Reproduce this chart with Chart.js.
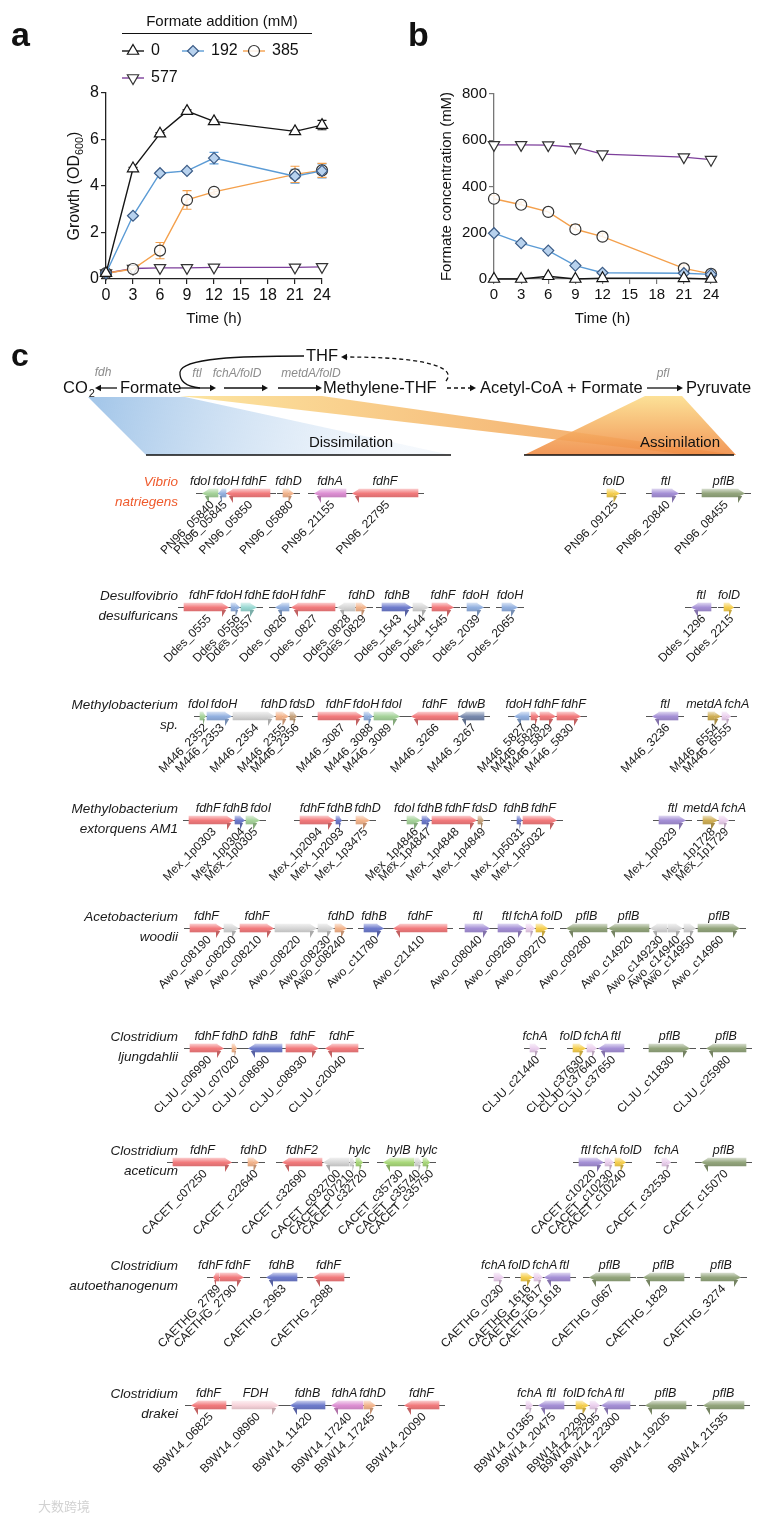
<!DOCTYPE html>
<html lang="en">
<head>
<meta charset="UTF-8" />
<title>Formate growth and formate gene clusters</title>
<script src="https://cdn.jsdelivr.net/npm/chart.js"></script>
<style>
  body { margin: 0; background: #fff; font-family: Arial, "Liberation Sans", sans-serif; }
  #page { position: relative; width: 765px; height: 1521px; overflow: hidden; }
  .box { position: absolute; }
</style>
</head>
<body>
<div id="page">
  <div class="box" style="left:0;top:0;width:400px;height:330px"><canvas id="growthChart"></canvas></div>
  <div class="box" style="left:400px;top:0;width:365px;height:330px"><canvas id="formateChart"></canvas></div>
  <div class="box" style="left:0;top:330px;width:765px;height:1191px"><canvas id="geneChart"></canvas></div>
</div>

<script>
  // ---------- panel a / b values ----------
  const timePoints = [0, 3, 6, 9, 12, 21, 24];
  const doseLabels = ['0', '192', '385', '577'];

  const growth0 = [0.25, 4.75, 6.25, 7.22, 6.78, 6.35, 6.62];
  const growth192 = [0.25, 2.72, 4.55, 4.65, 5.2, 4.42, 4.65];
  const growth385 = [0.25, 0.43, 1.22, 3.4, 3.75, 4.5, 4.67];
  const growth577 = [0.25, 0.45, 0.48, 0.48, 0.5, 0.5, 0.52];
  const growthErr0 = [0.05, 0.05, 0.05, 0.05, 0.05, 0.05, 0.2];
  const growthErr192 = [0.05, 0.05, 0.05, 0.05, 0.25, 0.3, 0.3];
  const growthErr385 = [0.05, 0.05, 0.35, 0.4, 0.1, 0.35, 0.3];

  const formate0 = [0, 0, 12, 0, 3, 3, 0];
  const formate192 = [198, 155, 123, 58, 27, 25, 20];
  const formate385 = [347, 321, 290, 215, 183, 46, 22];
  const formate577 = [580, 580, 579, 570, 540, 527, 516];
  const formateErr385 = [15, 12, 0, 20, 15, 15, 0];

  // ---------- panel c values: [start, end, strand, gene, locus, family] ----------
  const vibrioGenes = [
    [202, 218, -1, 'fdoI', 'PN96_05840', 'fdoI'], [218, 226, -1, 'fdoH', 'PN96_05845', 'fdoH'],
    [226, 270, -1, 'fdhF', 'PN96_05850', 'fdhF'], [283, 294, 1, 'fdhD', 'PN96_05880', 'fdhD'],
    [314, 346, -1, 'fdhA', 'PN96_21155', 'fdhA'], [352, 418, -1, 'fdhF', 'PN96_22795', 'fdhF'],
    [607, 620, 1, 'folD', 'PN96_09125', 'folD'], [652, 679, 1, 'ftl', 'PN96_20840', 'ftl'],
    [702, 745, 1, 'pflB', 'PN96_08455', 'pflB']
  ];
  const desulfoGenes = [
    [184, 229, 1, 'fdhF', 'Ddes_0555', 'fdhF'], [231, 240, 1, 'fdoH', 'Ddes_0556', 'fdoH'],
    [241, 257, 1, 'fdhE', 'Ddes_0557', 'fdhE'], [275, 289, -1, 'fdoH', 'Ddes_0826', 'fdoH'],
    [291, 335, -1, 'fdhF', 'Ddes_0827', 'fdhF'], [337, 355, -1, '', 'Ddes_0828', 'other'],
    [356, 367, 1, 'fdhD', 'Ddes_0829', 'fdhD'], [382, 412, 1, 'fdhB', 'Ddes_1543', 'fdhB'],
    [413, 429, 1, '', 'Ddes_1544', 'other'], [432, 454, 1, 'fdhF', 'Ddes_1545', 'fdhF'],
    [467, 484, 1, 'fdoH', 'Ddes_2039', 'fdoH'], [502, 518, 1, 'fdoH', 'Ddes_2065', 'fdoH'],
    [691, 711, -1, 'ftl', 'Ddes_1296', 'ftl'], [724, 734, 1, 'folD', 'Ddes_2215', 'folD']
  ];
  const methyloGenes = [
    [200, 206, 1, 'fdoI', 'M446_2352', 'fdoI'], [207, 232, 1, 'fdoH', 'M446_2353', 'fdoH'],
    [233, 275, 1, '', 'M446_2354', 'other'], [276, 289, 1, 'fdhD', 'M446_2355', 'fdhD'],
    [290, 297, 1, 'fdsD', 'M446_2356', 'fdsD'], [318, 363, 1, 'fdhF', 'M446_3087', 'fdhF'],
    [364, 373, 1, 'fdoH', 'M446_3088', 'fdoH'], [374, 400, 1, 'fdoI', 'M446_3089', 'fdoI'],
    [411, 458, -1, 'fdhF', 'M446_3266', 'fdhF'], [459, 484, -1, 'fdwB', 'M446_3267', 'fdwB'],
    [514, 529, -1, 'fdoH', 'M446_5827', 'fdoH'], [531, 539, 1, '', 'M446_5828', 'fdhF'],
    [540, 556, 1, 'fdhF', 'M446_5829', 'fdhF'], [557, 581, 1, 'fdhF', 'M446_5830', 'fdhF'],
    [652, 678, -1, 'ftl', 'M446_3236', 'ftl'], [708, 721, 1, 'metdA', 'M446_6554', 'metdA'],
    [722, 731, 1, 'fchA', 'M446_6555', 'fchA']
  ];
  const extorquensGenes = [
    [189, 234, 1, 'fdhF', 'Mex_1p0303', 'fdhF'], [235, 245, 1, 'fdhB', 'Mex_1p0304', 'fdhB'],
    [246, 260, 1, 'fdoI', 'Mex_1p0305', 'fdoI'], [300, 335, 1, 'fdhF', 'Mex_1p2094', 'fdhF'],
    [336, 342, 1, 'fdhB', 'Mex_1p2093', 'fdhB'], [356, 370, 1, 'fdhD', 'Mex_1p3475', 'fdhD'],
    [407, 421, 1, 'fdoI', 'Mex_1p4846', 'fdoI'], [422, 431, 1, 'fdhB', 'Mex_1p4847', 'fdhB'],
    [432, 477, 1, 'fdhF', 'Mex_1p4848', 'fdhF'], [478, 484, 1, 'fdsD', 'Mex_1p4849', 'fdsD'],
    [517, 522, 1, 'fdhB', 'Mex_1p5031', 'fdhB'], [523, 557, 1, 'fdhF', 'Mex_1p5032', 'fdhF'],
    [659, 686, 1, 'ftl', 'Mex_1p0329', 'ftl'], [703, 718, 1, 'metdA', 'Mex_1p1728', 'metdA'],
    [719, 729, 1, 'fchA', 'Mex_1p1729', 'fchA']
  ];
  const woodiiGenes = [
    [190, 223, 1, 'fdhF', 'Awo_c08190', 'fdhF'], [224, 239, 1, '', 'Awo_c08200', 'other'],
    [240, 274, 1, 'fdhF', 'Awo_c08210', 'fdhF'], [275, 317, 1, '', 'Awo_c08220', 'other'],
    [318, 334, 1, '', 'Awo_c08230', 'other'], [335, 347, 1, 'fdhD', 'Awo_c08240', 'fdhD'],
    [364, 384, 1, 'fdhB', 'Awo_c11780', 'fdhB'], [393, 447, -1, 'fdhF', 'Awo_c21410', 'fdhF'],
    [465, 490, 1, 'ftl', 'Awo_c08040', 'ftl'], [498, 525, 1, 'ftl', 'Awo_c09260', 'ftl'],
    [526, 535, 1, 'fchA', '', 'fchA'], [536, 548, 1, 'folD', 'Awo_c09270', 'folD'],
    [566, 607, -1, 'pflB', 'Awo_c09280', 'pflB'], [608, 649, -1, 'pflB', 'Awo_c14920', 'pflB'],
    [650, 667, -1, '', 'Awo_c149230', 'other'], [668, 683, 1, '', 'Awo_c14940', 'other'],
    [684, 696, 1, '', 'Awo_c14950', 'other'], [698, 740, 1, 'pflB', 'Awo_c14960', 'pflB']
  ];
  const ljungGenes = [
    [190, 224, 1, 'fdhF', 'CLJU_c06990', 'fdhF'], [232, 237, 1, 'fdhD', 'CLJU_c07020', 'fdhD'],
    [248, 282, -1, 'fdhB', 'CLJU_c08690', 'fdhB'], [286, 319, 1, 'fdhF', 'CLJU_c08930', 'fdhF'],
    [325, 358, -1, 'fdhF', 'CLJU_c20040', 'fdhF'], [530, 540, 1, 'fchA', 'CLJU_c21440', 'fchA'],
    [573, 586, 1, 'folD', 'CLJU_c37630', 'folD'], [587, 597, 1, 'fchA', 'CLJU_c37640', 'fchA'],
    [598, 624, -1, 'ftl', 'CLJU_c37650', 'ftl'], [649, 690, 1, 'pflB', 'CLJU_c11830', 'pflB'],
    [706, 746, -1, 'pflB', 'CLJU_c25980', 'pflB']
  ];
  const aceticumGenes = [
    [173, 232, 1, 'fdhF', 'CACET_c07250', 'fdhF'], [248, 259, 1, 'fdhD', 'CACET_c22640', 'fdhD'],
    [282, 322, -1, 'fdhF2', 'CACET_c32690', 'fdhF'], [323, 349, -1, '', 'CACET_c032700', 'other'],
    [350, 355, 1, '', 'CACET_c07210', 'other'], [356, 363, 1, 'hylc', 'CACET_c32720', 'hyl'],
    [383, 414, -1, 'hylB', 'CACET_c35730', 'hyl'], [415, 422, 1, '', 'CACET_c35740', 'other'],
    [423, 430, 1, 'hylc', 'CACET_c35750', 'hyl'], [579, 604, 1, 'ftl', 'CACET_c10220', 'ftl'],
    [605, 614, 1, 'fchA', 'CACET_c10230', 'fchA'], [615, 626, 1, 'folD', 'CACET_c10240', 'folD'],
    [662, 671, 1, 'fchA', 'CACET_c32530', 'fchA'], [701, 746, -1, 'pflB', 'CACET_c15070', 'pflB']
  ];
  const autoethGenes = [
    [213, 219, -1, 'fdhF', 'CAETHG_2789', 'fdhF'], [220, 244, 1, 'fdhF', 'CAETHG_2790', 'fdhF'],
    [266, 297, -1, 'fdhB', 'CAETHG_2963', 'fdhB'], [313, 344, -1, 'fdhF', 'CAETHG_2988', 'fdhF'],
    [494, 504, 1, 'fchA', 'CAETHG_0230', 'fchA'], [521, 533, 1, 'folD', 'CAETHG_1616', 'folD'],
    [534, 543, 1, 'fchA', 'CAETHG_1617', 'fchA'], [544, 570, -1, 'ftl', 'CAETHG_1618', 'ftl'],
    [589, 630, -1, 'pflB', 'CAETHG_0667', 'pflB'], [643, 684, -1, 'pflB', 'CAETHG_1829', 'pflB'],
    [701, 741, 1, 'pflB', 'CAETHG_3274', 'pflB']
  ];
  const drakeiGenes = [
    [191, 226, -1, 'fdhF', 'B9W14_06825', 'fdhF'], [232, 279, 1, 'FDH', 'B9W14_08960', 'FDH'],
    [290, 325, -1, 'fdhB', 'B9W14_11420', 'fdhB'], [331, 363, -1, 'fdhA', 'B9W14_17240', 'fdhA'],
    [364, 376, 1, 'fdhD', 'B9W14_17245', 'fdhD'], [404, 439, -1, 'fdhF', 'B9W14_20090', 'fdhF'],
    [526, 533, 1, 'fchA', 'B9W14_01365', 'fchA'], [538, 564, -1, 'ftl', 'B9W14_20475', 'ftl'],
    [576, 589, 1, 'folD', 'B9W14_22290', 'folD'], [590, 600, 1, 'fchA', 'B9W14_22295', 'fchA'],
    [601, 630, -1, 'ftl', 'B9W14_22300', 'ftl'], [645, 686, -1, 'pflB', 'B9W14_19205', 'pflB'],
    [703, 744, -1, 'pflB', 'B9W14_21535', 'pflB']
  ];
  const organismNames = [
    ['Vibrio', 'natriegens'], ['Desulfovibrio', 'desulfuricans'], ['Methylobacterium', 'sp.'],
    ['Methylobacterium', 'extorquens AM1'], ['Acetobacterium', 'woodii'], ['Clostridium', 'ljungdahlii'],
    ['Clostridium', 'aceticum'], ['Clostridium', 'autoethanogenum'], ['Clostridium', 'drakei']
  ];
  const geneRows = [vibrioGenes, desulfoGenes, methyloGenes, extorquensGenes, woodiiGenes,
                    ljungGenes, aceticumGenes, autoethGenes, drakeiGenes];

  // ---------- layout / style ----------
  const rowY = [493, 607, 716, 820, 928, 1048, 1162, 1277, 1405];
  const familyColor = {
    fdhF: '#f27a7c', fdoH: '#93b1e0', fdoI: '#a6d39a', fdhD: '#f3b48c', fdhA: '#dd8fd3',
    fdhE: '#9ad9d3', fdhB: '#6e7bcc', fdsD: '#c7a27c', fdwB: '#7889ad', folD: '#f6cf4f',
    ftl: '#a590d6', pflB: '#93a57c', metdA: '#cfae55', fchA: '#ebd0ee', hyl: '#a9d87a',
    FDH: '#f7d3da', other: '#d6d6d6'
  };
  const FONT = 'Arial, "Liberation Sans", sans-serif';
  Chart.defaults.font.family = FONT;

  function mix(hex, t, target) {
    const n = parseInt(hex.slice(1), 16);
    const f = v => Math.round(v + (target - v) * t);
    return `rgb(${f(n >> 16)},${f((n >> 8) & 255)},${f(n & 255)})`;
  }

  // ---------- panels a and b ----------
  function series(label, values, color, style, rot, fill, stroke, radius, err) {
    return {
      label, err,
      data: timePoints.map((t, i) => ({ x: t, y: values[i] })),
      borderColor: color, borderWidth: 1.4,
      pointStyle: style, pointRotation: rot, pointRadius: radius, pointHoverRadius: radius,
      pointBackgroundColor: fill, pointBorderColor: stroke, pointBorderWidth: 1.2,
      clip: false
    };
  }

  const errorBars = {
    id: 'errorBars',
    beforeDatasetsDraw(chart, args, opts) {
      const ctx = chart.ctx, ys = chart.scales.y;
      ctx.save();
      chart.data.datasets.forEach((ds, di) => {
        if (!ds.err) return;
        chart.getDatasetMeta(di).data.forEach((pt, i) => {
          const e = ds.err[i];
          if (!e) return;
          const v = ds.data[i].y;
          const top = ys.getPixelForValue(v + e);
          const bot = opts.upOnly ? pt.y : ys.getPixelForValue(v - e);
          ctx.strokeStyle = ds.borderColor; ctx.lineWidth = 1.2;
          ctx.beginPath();
          ctx.moveTo(pt.x, top); ctx.lineTo(pt.x, bot);
          ctx.moveTo(pt.x - 4.5, top); ctx.lineTo(pt.x + 4.5, top);
          if (!opts.upOnly) { ctx.moveTo(pt.x - 4.5, bot); ctx.lineTo(pt.x + 4.5, bot); }
          ctx.stroke();
        });
      });
      ctx.restore();
    }
  };

  const panelDecor = {
    id: 'panelDecor',
    afterDraw(chart, args, o) {
      const ctx = chart.ctx, a = chart.chartArea;
      ctx.save();
      ctx.fillStyle = '#111';
      ctx.font = `bold 34px ${FONT}`;
      ctx.textAlign = 'left'; ctx.textBaseline = 'alphabetic';
      ctx.fillText(o.letter, o.letterX, 46);

      // x title
      ctx.font = `15px ${FONT}`;
      ctx.textAlign = 'center';
      ctx.fillText('Time (h)', (a.left + a.right) / 2, 323);

      // y title (with optional subscript)
      ctx.save();
      ctx.translate(o.yTitleX, (a.top + a.bottom) / 2);
      ctx.rotate(-Math.PI / 2);
      ctx.font = `${o.yTitleSize}px ${FONT}`;
      const w1 = ctx.measureText(o.yTitle[0]).width;
      ctx.font = `${o.yTitleSize * 0.68}px ${FONT}`;
      const w2 = o.yTitle[1] ? ctx.measureText(o.yTitle[1]).width : 0;
      ctx.font = `${o.yTitleSize}px ${FONT}`;
      const w3 = o.yTitle[2] ? ctx.measureText(o.yTitle[2]).width : 0;
      let x = -(w1 + w2 + w3) / 2;
      ctx.textAlign = 'left'; ctx.textBaseline = 'middle';
      ctx.fillText(o.yTitle[0], x, 0); x += w1;
      if (o.yTitle[1]) {
        ctx.font = `${o.yTitleSize * 0.68}px ${FONT}`;
        ctx.fillText(o.yTitle[1], x, 5); x += w2;
        ctx.font = `${o.yTitleSize}px ${FONT}`;
        ctx.fillText(o.yTitle[2], x, 0);
      }
      ctx.restore();

      if (o.legend) {
        ctx.font = `15px ${FONT}`;
        ctx.textAlign = 'center'; ctx.textBaseline = 'alphabetic';
        ctx.fillText('Formate addition (mM)', 222, 26);
        ctx.strokeStyle = '#111'; ctx.lineWidth = 1.2;
        ctx.beginPath(); ctx.moveTo(122, 33.5); ctx.lineTo(312, 33.5); ctx.stroke();
        const spots = [[122, 51], [182, 51], [243, 51], [122, 78]];
        ctx.font = `16px ${FONT}`;
        chart.data.datasets.forEach((ds, i) => {
          const [lx, ly] = spots[i];
          ctx.strokeStyle = ds.borderColor; ctx.lineWidth = 1.4;
          ctx.beginPath(); ctx.moveTo(lx, ly); ctx.lineTo(lx + 22, ly); ctx.stroke();
          ctx.fillStyle = ds.pointBackgroundColor; ctx.strokeStyle = ds.pointBorderColor;
          ctx.lineWidth = ds.pointBorderWidth;
          Chart.helpers.drawPoint(ctx, { pointStyle: ds.pointStyle, radius: ds.pointRadius,
            rotation: ds.pointRotation, borderWidth: ds.pointBorderWidth }, lx + 11, ly);
          ctx.fillStyle = '#111'; ctx.textAlign = 'left'; ctx.textBaseline = 'middle';
          ctx.fillText(ds.label, lx + 29, ly);
        });
      }
      ctx.restore();
    }
  };

  function axisOpts(min, max, step, boxSize, fontSize, color) {
    return {
      type: 'linear', min, max, offset: false,
      ticks: { stepSize: step, color: '#111', font: { size: fontSize }, padding: 2,
               maxRotation: 0, autoSkip: false },
      grid: { drawOnChartArea: false, drawTicks: true, tickLength: 5, color, lineWidth: 1.2 },
      border: { display: true, color, width: 1.3 },
      afterFit: s => { if (s.axis === 'y') s.width = boxSize; else s.height = boxSize; }
    };
  }

  new Chart('growthChart', {
    type: 'line',
    data: {
      datasets: [
        series(doseLabels[0], growth0, '#151515', 'triangle', 0, '#ffffff', '#151515', 6.5, growthErr0),
        series(doseLabels[1], growth192, '#5b9bd5', 'rectRot', 0, '#b8d2ee', '#3c5c86', 5.5, growthErr192),
        series(doseLabels[2], growth385, '#f4a04c', 'circle', 0, 'rgba(255,255,255,0.85)', '#333333', 5.5, growthErr385),
        series(doseLabels[3], growth577, '#7d3f9b', 'triangle', 180, '#ffffff', '#333333', 6.5, null)
      ]
    },
    options: {
      responsive: true, maintainAspectRatio: false, animation: false,
      layout: { padding: { left: 0, top: 93, right: 78, bottom: 21 } },
      plugins: {
        legend: { display: false }, tooltip: { enabled: false },
        errorBars: { upOnly: false },
        panelDecor: { letter: 'a', letterX: 11, legend: true, yTitleX: 75, yTitleSize: 16,
                      yTitle: ['Growth (OD', '600', ')'] }
      },
      scales: { x: axisOpts(0, 24, 3, 30, 16, '#222'), y: axisOpts(0, 8, 2, 106, 16, '#222') }
    },
    plugins: [errorBars, panelDecor]
  });

  new Chart('formateChart', {
    type: 'line',
    data: {
      datasets: [
        series(doseLabels[0], formate0, '#151515', 'triangle', 0, '#ffffff', '#151515', 6.5, null),
        series(doseLabels[1], formate192, '#5b9bd5', 'rectRot', 0, '#b8d2ee', '#3c5c86', 5.5, null),
        series(doseLabels[2], formate385, '#f4a04c', 'circle', 0, 'rgba(255,255,255,0.85)', '#333333', 5.5, formateErr385),
        series(doseLabels[3], formate577, '#7d3f9b', 'triangle', 180, '#ffffff', '#333333', 6.5, null)
      ]
    },
    options: {
      responsive: true, maintainAspectRatio: false, animation: false,
      layout: { padding: { left: 0, top: 94, right: 54, bottom: 21 } },
      plugins: {
        legend: { display: false }, tooltip: { enabled: false },
        errorBars: { upOnly: true },
        panelDecor: { letter: 'b', letterX: 8, legend: false, yTitleX: 47, yTitleSize: 15,
                      yTitle: ['Formate concentration (mM)'] }
      },
      scales: { x: axisOpts(0, 24, 3, 30, 15, '#777'), y: axisOpts(0, 800, 200, 94, 15, '#777') }
    },
    plugins: [errorBars, panelDecor]
  });

  // ---------- panel c ----------
  const geneBars = [];
  geneRows.forEach((genes, r) => genes.forEach(([s, e, strand, name, locus, fam]) => {
    const head = Math.min(7, (e - s) * 0.5);
    const hb = strand > 0 ? e - head : s + head;
    geneBars.push({ x: strand > 0 ? [s, hb] : [hb, e], y: rowY[r], s, e, hb, strand, name, locus, fam, row: r });
  }));

  function bodyFill(c) {
    const d = c.raw;
    const col = d ? familyColor[d.fam] : '#cccccc';
    const ys = c.chart.scales && c.chart.scales.y;
    const py = d && ys ? ys.getPixelForValue(d.y) : NaN;
    if (!isFinite(py)) return col;
    const g = c.chart.ctx.createLinearGradient(0, py - 4, 0, py + 4);
    g.addColorStop(0, mix(col, 0.6, 255));
    g.addColorStop(0.55, col);
    g.addColorStop(1, mix(col, 0.1, 0));
    return g;
  }

  function clustersOf(genes) {
    const sorted = genes.slice().sort((a, b) => a[0] - b[0]);
    const out = [];
    sorted.forEach(g => {
      const last = out[out.length - 1];
      if (last && g[0] - last[1] <= 4) last[1] = Math.max(last[1], g[1]);
      else out.push([g[0], g[1]]);
    });
    return out;
  }

  function spread(items, gap) {
    items.sort((a, b) => a.c - b.c);
    for (let it = 0; it < 200; it++) {
      let moved = false;
      for (let i = 1; i < items.length; i++) {
        const a = items[i - 1], b = items[i];
        const need = (a.w + b.w) / 2 + gap - (b.c - a.c);
        if (need > 0.05) { a.c -= need / 2; b.c += need / 2; moved = true; }
      }
      if (!moved) break;
    }
    return items;
  }

  function arrowHead(ctx, x, y, dx, dy, size) {
    const len = Math.hypot(dx, dy), ux = dx / len, uy = dy / len;
    ctx.beginPath();
    ctx.moveTo(x, y);
    ctx.lineTo(x - ux * size - uy * size * 0.55, y - uy * size + ux * size * 0.55);
    ctx.lineTo(x - ux * size + uy * size * 0.55, y - uy * size - ux * size * 0.55);
    ctx.closePath(); ctx.fill();
  }

  function poly(ctx, pts, fill) {
    ctx.beginPath();
    pts.forEach(([x, y], i) => i ? ctx.lineTo(x, y) : ctx.moveTo(x, y));
    ctx.closePath(); ctx.fillStyle = fill; ctx.fill();
  }

  const geneDecor = {
    id: 'geneDecor',
    beforeDatasetsDraw(chart) {
      const ctx = chart.ctx, xs = chart.scales.x, ys = chart.scales.y;
      const X = v => xs.getPixelForValue(v), Y = v => ys.getPixelForValue(v);
      ctx.save();
      // wedges
      let g = ctx.createLinearGradient(X(100), Y(395), X(400), Y(460));
      g.addColorStop(0, 'rgba(160,196,232,0.95)'); g.addColorStop(1, 'rgba(225,236,248,0.35)');
      poly(ctx, [[X(88), Y(397)], [X(185), Y(397)], [X(451), Y(455)], [X(146), Y(455)]], g);
      g = ctx.createLinearGradient(X(180), Y(396), X(730), Y(455));
      g.addColorStop(0, 'rgba(252,226,150,0.9)'); g.addColorStop(1, 'rgba(240,150,80,0.9)');
      poly(ctx, [[X(180), Y(396)], [X(322), Y(396)], [X(736), Y(455)], [X(690), Y(455)]], g);
      g = ctx.createLinearGradient(0, Y(396), 0, Y(455));
      g.addColorStop(0, 'rgba(252,222,140,0.9)'); g.addColorStop(1, 'rgba(240,140,70,0.9)');
      poly(ctx, [[X(645), Y(396)], [X(682), Y(396)], [X(736), Y(455)], [X(524), Y(455)]], g);

      // gene backbones
      ctx.strokeStyle = '#555'; ctx.lineWidth = 1;
      geneRows.forEach((genes, r) => {
        const py = Math.round(Y(rowY[r])) + 0.5;
        clustersOf(genes).forEach(([a, b]) => {
          ctx.beginPath(); ctx.moveTo(X(a) - 6, py); ctx.lineTo(X(b) + 6, py); ctx.stroke();
        });
      });
      ctx.restore();
    },
    afterDatasetsDraw(chart) {
      const ctx = chart.ctx, xs = chart.scales.x, ys = chart.scales.y;
      const X = v => xs.getPixelForValue(v), Y = v => ys.getPixelForValue(v);
      ctx.save();

      // arrow heads with the lower barb
      geneBars.forEach(d => {
        const col = familyColor[d.fam];
        const py = Y(d.y);
        const tip = X(d.strand > 0 ? d.e : d.s), base = X(d.hb);
        const g = ctx.createLinearGradient(0, py - 4, 0, py + 9);
        g.addColorStop(0, mix(col, 0.6, 255)); g.addColorStop(0.35, col); g.addColorStop(1, mix(col, 0.15, 0));
        poly(ctx, [[base, py - 4], [tip, py + 0.5], [base, py + 4]], g);
        poly(ctx, [[base, py + 3], [base + (tip - base) * 0.6, py + 3], [base, py + 10]], mix(col, 0.2, 0));
      });

      // gene names & locus tags
      ctx.fillStyle = '#1a1a1a';
      geneRows.forEach((genes, r) => {
        const py = Y(rowY[r]);
        ctx.font = `italic 12.5px ${FONT}`;
        ctx.textAlign = 'center'; ctx.textBaseline = 'alphabetic';
        const names = genes.filter(g => g[3]).map(g => ({ c: X((g[0] + g[1]) / 2), w: ctx.measureText(g[3]).width, t: g[3] }));
        spread(names, 2).forEach(n => ctx.fillText(n.t, n.c, py - 8));

        ctx.font = `12px ${FONT}`;
        const loci = genes.filter(g => g[4]).map(g => ({ c: X((g[0] + g[1]) / 2), w: 0, t: g[4] }));
        spread(loci, 13).forEach(n => {
          ctx.save();
          ctx.translate(n.c + 3, py + 10);
          ctx.rotate(-Math.PI / 4);
          ctx.textAlign = 'right'; ctx.textBaseline = 'middle';
          ctx.fillText(n.t, 0, 0);
          ctx.restore();
        });

        ctx.font = `italic 13.5px ${FONT}`;
        ctx.textAlign = 'right'; ctx.textBaseline = 'alphabetic';
        ctx.fillStyle = r === 0 ? '#ef5a2c' : '#1a1a1a';
        ctx.fillText(organismNames[r][0], X(178), py - 7);
        ctx.fillText(organismNames[r][1], X(178), py + 13);
        ctx.fillStyle = '#1a1a1a';
      });

      // ---- pathway header ----
      ctx.fillStyle = '#111'; ctx.strokeStyle = '#111';
      ctx.font = `bold 32px ${FONT}`;
      ctx.textAlign = 'left'; ctx.textBaseline = 'alphabetic';
      ctx.fillText('c', X(11), Y(366));

      const rowB = Y(393), rowM = Y(388);
      ctx.font = `16.5px ${FONT}`;
      ctx.textAlign = 'left';
      ctx.fillText('Formate', X(120), rowB);
      ctx.fillText('Methylene-THF', X(323), rowB);
      ctx.fillText('Acetyl-CoA + Formate', X(480), rowB);
      ctx.fillText('Pyruvate', X(686), rowB);
      ctx.textAlign = 'center';
      ctx.fillText('THF', X(322), Y(361));
      ctx.textAlign = 'left';
      ctx.fillText('CO', X(63), rowB);
      const coW = ctx.measureText('CO').width;
      ctx.font = `11px ${FONT}`;
      ctx.fillText('2', X(63) + coW + 1, rowB + 4);

      ctx.font = `italic 12px ${FONT}`;
      ctx.fillStyle = '#8c8c8c'; ctx.textAlign = 'center';
      ctx.fillText('fdh', X(103), Y(376));
      ctx.fillText('ftl', X(197), Y(377));
      ctx.fillText('fchA/folD', X(237), Y(377));
      ctx.fillText('metdA/folD', X(311), Y(377));
      ctx.fillText('pfl', X(663), Y(377));

      ctx.fillStyle = '#111'; ctx.lineWidth = 1.3;
      const hline = (x1, x2) => {
        ctx.beginPath(); ctx.moveTo(X(x1), rowM); ctx.lineTo(X(x2) - (x2 > x1 ? 4 : -4), rowM); ctx.stroke();
        arrowHead(ctx, X(x2), rowM, x2 - x1, 0, 6);
      };
      hline(117, 95); hline(180, 216); hline(224, 268); hline(278, 322); hline(647, 683);

      // THF loop (solid)
      ctx.beginPath();
      ctx.moveTo(X(304), Y(356));
      ctx.bezierCurveTo(X(240), Y(356), X(182), Y(358), X(180), Y(372));
      ctx.bezierCurveTo(X(179), Y(384), X(190), Y(387), X(200), Y(388));
      ctx.stroke();

      // dashed arrows
      ctx.setLineDash([4, 3]);
      ctx.beginPath(); ctx.moveTo(X(447), rowM); ctx.lineTo(X(470), rowM); ctx.stroke();
      ctx.beginPath();
      ctx.moveTo(X(446), Y(381));
      ctx.bezierCurveTo(X(458), Y(366), X(420), Y(357), X(347), Y(357));
      ctx.stroke();
      ctx.setLineDash([]);
      arrowHead(ctx, X(476), rowM, 1, 0, 6);
      arrowHead(ctx, X(341), Y(357), -1, 0, 6);

      ctx.font = `15px ${FONT}`;
      ctx.textAlign = 'center';
      ctx.fillText('Dissimilation', X(351), Y(447));
      ctx.fillText('Assimilation', X(680), Y(447));
      ctx.lineWidth = 1.6;
      ctx.beginPath();
      ctx.moveTo(X(146), Y(455)); ctx.lineTo(X(451), Y(455));
      ctx.moveTo(X(524), Y(455)); ctx.lineTo(X(734), Y(455));
      ctx.stroke();

      ctx.font = `13px "Noto Sans CJK SC", ${FONT}`;
      ctx.fillStyle = '#d2d2d2'; ctx.textAlign = 'left';
      ctx.fillText('大数跨境', X(38), Y(1511));
      ctx.restore();
    }
  };

  new Chart('geneChart', {
    type: 'bar',
    data: {
      datasets: [{ data: geneBars, barThickness: 8, borderWidth: 0, backgroundColor: bodyFill, clip: false }]
    },
    options: {
      indexAxis: 'y', responsive: true, maintainAspectRatio: false, animation: false,
      layout: { padding: 0 },
      plugins: { legend: { display: false }, tooltip: { enabled: false } },
      scales: {
        x: { type: 'linear', min: 0, max: 765, display: false, offset: false },
        y: { type: 'linear', min: 330, max: 1521, reverse: true, display: false, offset: false }
      }
    },
    plugins: [geneDecor]
  });
</script>
</body>
</html>
